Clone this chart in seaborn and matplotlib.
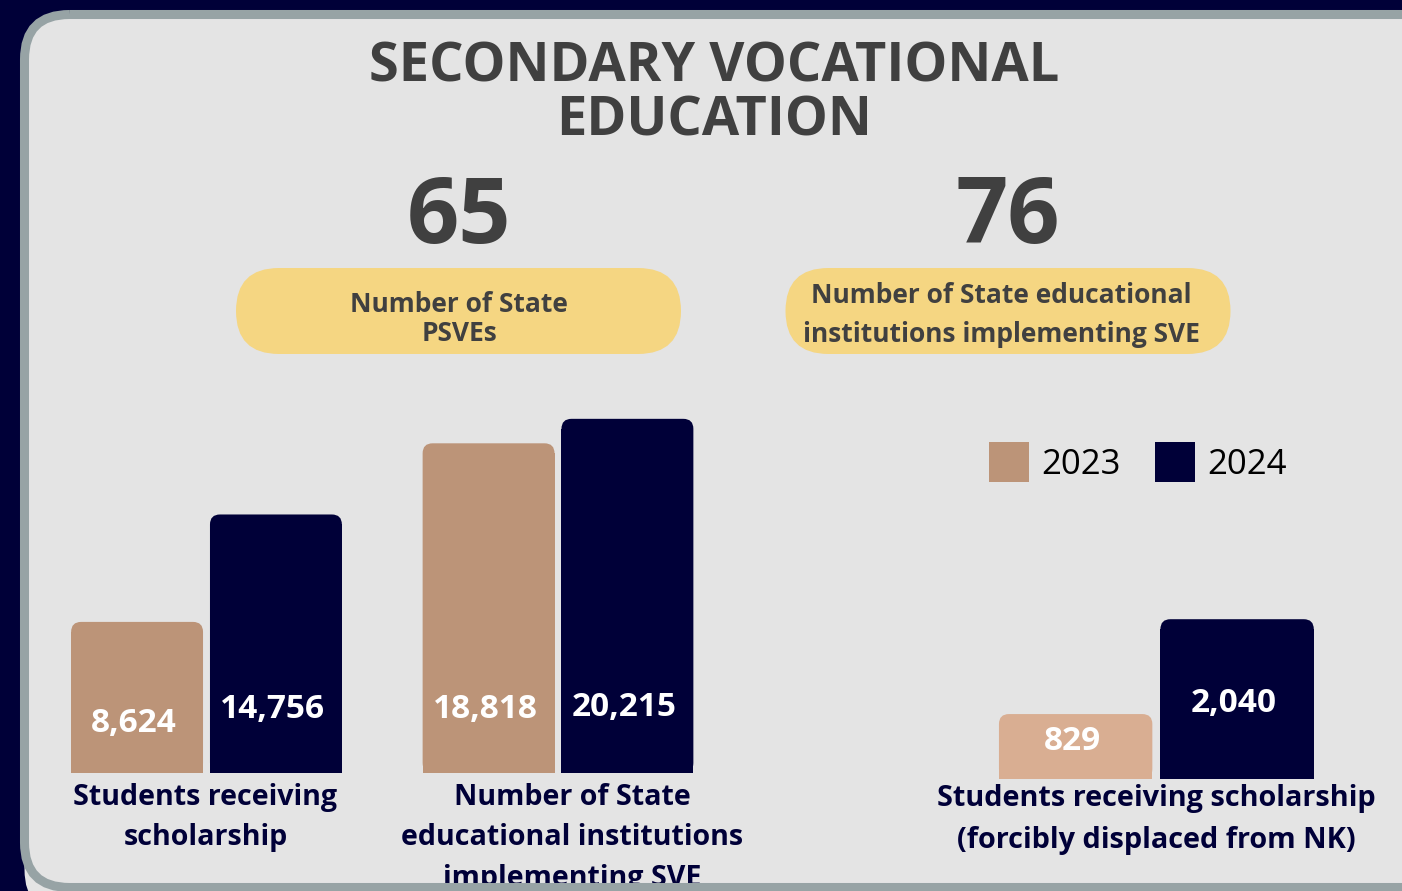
import numpy as np
import pandas as pd
import matplotlib
matplotlib.use("Agg")
import matplotlib.pyplot as plt
from matplotlib.patches import FancyBboxPatch, Patch
import seaborn as sns

# ---- data ----
title_lines = ["SECONDARY VOCATIONAL", "EDUCATION"]
headline_values = [65, 76]
headline_labels = ["Number of State\nPSVEs",
                   "Number of State educational\ninstitutions implementing SVE"]

years = ["2023", "2024"]
left_categories = ["Students receiving\nscholarship",
                   "Number of State\neducational institutions\nimplementing SVE"]
left_2023 = [8624, 18818]
left_2024 = [14756, 20215]

right_categories = ["Students receiving scholarship\n(forcibly displaced from NK)"]
right_2023 = [829]
right_2024 = [2040]

# ---- style ----
NAVY = "#000038"
TAN = "#bc9478"
LIGHT_TAN = "#d9ae92"
GREY_TEXT = "#404040"
PILL = "#f5d682"
PANEL = "#e4e4e4"
BORDER = "#97a3a5"
FONT = ["Open Sans", "DejaVu Sans"]

sns.set_theme(style="white")
plt.rcParams["font.family"] = FONT

W, H = 1402, 891
fig = plt.figure(figsize=(W / 100, H / 100), dpi=100, facecolor=NAVY)

# background axis in pixel coords (y down)
bg = fig.add_axes([0, 0, 1, 1])
bg.set_xlim(0, W)
bg.set_ylim(H, 0)
bg.axis("off")
bg.patch.set_alpha(0)

bg.add_patch(FancyBboxPatch((24.5, 14.5), 1440, 900,
                            boxstyle="round,pad=0,rounding_size=45",
                            fc=PANEL, ec="none"))

bg.text(714, 67, title_lines[0], ha="center", va="center", fontsize=39,
        fontweight="bold", color=GREY_TEXT)
bg.text(714, 121, title_lines[1], ha="center", va="center", fontsize=39,
        fontweight="bold", color=GREY_TEXT)

pill_centers = [458.5, 1008]
for cx, val in zip(pill_centers, headline_values):
    bg.text(cx, 219, str(val), ha="center", va="center", fontsize=66,
            fontweight="bold", color=GREY_TEXT)
    bg.add_patch(FancyBboxPatch((cx - 222.5, 268), 445, 86,
                                boxstyle="round,pad=0,rounding_size=43",
                                fc=PILL, ec="none"))
bg.text(459, 319, headline_labels[0], ha="center", va="center", fontsize=19,
        fontweight="bold", color=GREY_TEXT, linespacing=1.1)
bg.text(1001, 315, headline_labels[1], ha="center", va="center", fontsize=19,
        fontweight="bold", color=GREY_TEXT, linespacing=1.55)


def round_tops(ax, radius_px=10):
    fig.canvas.draw()
    inv = ax.transData.inverted()
    p0 = inv.transform((0, 0))
    p1 = inv.transform((radius_px, radius_px))
    rx, ry = p1 - p0
    for bar in list(ax.patches):
        x, w, h = bar.get_x(), bar.get_width(), bar.get_height()
        if h <= 0:
            continue
        ax.add_patch(FancyBboxPatch((x, 0), w, h,
                                    boxstyle=f"round,pad=0,rounding_size={rx}",
                                    mutation_aspect=ry / rx,
                                    fc=bar.get_facecolor(), ec="none", lw=0,
                                    zorder=2))
        bar.set_height(h - ry)
        bar.set_zorder(2)


def bar_panel(rect, cats, v23, v24, ymax):
    df = pd.DataFrame({
        "category": cats * 2,
        "year": [years[0]] * len(cats) + [years[1]] * len(cats),
        "value": v23 + v24,
    })
    ax = fig.add_axes(rect)
    sns.barplot(data=df, x="category", y="value", hue="year",
                palette=[TAN, NAVY], width=0.79, gap=0.05,
                saturation=1, legend=False, linewidth=0, ax=ax)
    ax.set_xlim(-0.5, len(cats) - 0.5)
    ax.set_ylim(0, ymax)
    ax.axis("off")
    ax.patch.set_alpha(0)
    return ax


# left chart: baseline at y=773px, 0.01753 px per student
axL = bar_panel([30.75 / W, 118 / H, 703 / W, 438 / H],
                left_categories, left_2023, left_2024, 25000)
# right chart: baseline at y=779px
axR = bar_panel([952 / W, 112 / H, 408.75 / W, 235 / H],
                right_categories, right_2023, right_2024, 3000)
axR.patches[0].set_facecolor(LIGHT_TAN)

round_tops(axL)
round_tops(axR)

# value labels (offset above baseline in px)
left_label_px = [50, 64, 64, 66]
right_label_px = [38, 75]
vals_L = left_2023 + left_2024
vals_R = right_2023 + right_2024
for ax, vals, offs in [(axL, vals_L, left_label_px), (axR, vals_R, right_label_px)]:
    bars = [p for p in ax.patches if not isinstance(p, FancyBboxPatch)]
    for bar, v, off in zip(bars, vals, offs):
        ax.annotate(f"{v:,}", xy=(bar.get_x() + bar.get_width() / 2, 0),
                    xytext=(-3, off), textcoords="offset pixels",
                    ha="center", va="center", fontsize=24, fontweight="bold",
                    color="white", zorder=5)

# category labels under each group
for i, lab in enumerate(left_categories):
    dx = [-1, 14][i]
    axL.annotate(lab, xy=(i, 0), xytext=(dx, -10), textcoords="offset pixels",
                 ha="center", va="top", fontsize=20.6, fontweight="bold",
                 color=NAVY, linespacing=1.52, annotation_clip=False)
axR.annotate(right_categories[0], xy=(0, 0), xytext=(0, -5),
             textcoords="offset pixels", ha="center", va="top", fontsize=20.8,
             fontweight="bold", color=NAVY, linespacing=1.6,
             annotation_clip=False)

# legend
handles = [Patch(fc=TAN, ec="none"), Patch(fc=NAVY, ec="none")]
fig.legend(handles, years, loc="center left",
           bbox_to_anchor=(958 / W, 1 - 462 / H), frameon=False, ncol=2,
           fontsize=25, handlelength=1.15, handleheight=1.4,
           handletextpad=0.35, columnspacing=1.0, labelcolor="black")

# panel border on top, clipping anything running past it
top = fig.add_axes([0, 0, 1, 1])
top.set_xlim(0, W)
top.set_ylim(H, 0)
top.axis("off")
top.patch.set_alpha(0)
top.add_patch(FancyBboxPatch((24.5, 14.5), 1440, 873,
                             boxstyle="round,pad=0,rounding_size=45",
                             fc="none", ec=BORDER, lw=6.5))

fig.savefig("out.png", dpi=100, facecolor=NAVY)
